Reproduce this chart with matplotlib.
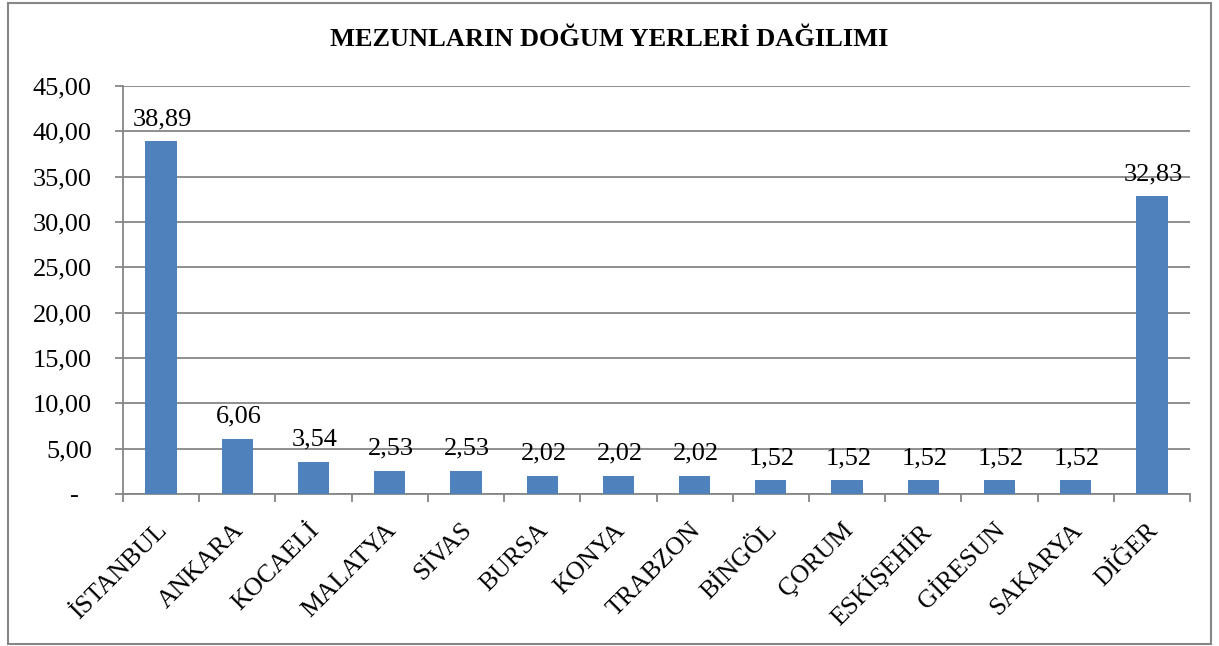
import matplotlib
matplotlib.use("Agg")
import matplotlib.pyplot as plt
from matplotlib.patches import Rectangle
from matplotlib.transforms import ScaledTranslation
import numpy as np

categories = ["İSTANBUL", "ANKARA", "KOCAELİ", "MALATYA", "SİVAS", "BURSA", "KONYA",
              "TRABZON", "BİNGÖL", "ÇORUM", "ESKİŞEHİR", "GİRESUN", "SAKARYA", "DİĞER"]
values = [38.89, 6.06, 3.54, 2.53, 2.53, 2.02, 2.02, 2.02, 1.52, 1.52, 1.52, 1.52, 1.52, 32.83]
yticks = [0, 5, 10, 15, 20, 25, 30, 35, 40, 45]
ytick_labels = ["-  ", "5,00", "10,00", "15,00", "20,00", "25,00", "30,00", "35,00", "40,00", "45,00"]
title = "MEZUNLARIN DOĞUM YERLERİ DAĞILIMI"

plt.rcParams['font.family'] = ['Liberation Serif', 'DejaVu Serif']
FS = 19

fig = plt.figure(figsize=(12.19, 6.46), dpi=100)
fig.patches.append(Rectangle((8/1219, 2/646), 1203/1219, 641/646, transform=fig.transFigure,
                             fill=False, edgecolor='#868686', linewidth=1.5))
ax = fig.add_axes([123/1219, 1 - 494/646, (1190 - 123)/1219, (494 - 86)/646])

x = np.arange(len(categories))
ax.bar(x, values, width=0.41, color='#4F81BD', zorder=3)
for xi, v in zip(x, values):
    ax.annotate(f"{v:.2f}".replace('.', ','), (xi, v), xytext=(1, 8), textcoords='offset points',
                ha='center', va='bottom', fontsize=FS, zorder=4)

ax.set_xlim(-0.5, len(categories) - 0.5)
ax.set_ylim(0, 45)
ax.set_yticks(yticks)
ax.set_yticklabels(ytick_labels, fontsize=FS)
ax.yaxis.grid(True, color='#868686', linewidth=1.3, zorder=0)
ax.set_axisbelow(True)

ax.set_xticks(x)
ax.set_xticklabels(categories, rotation=45, ha='right', va='top', rotation_mode='anchor', fontsize=18.5)
ax.tick_params(axis='x', length=0, pad=18)
offset = ScaledTranslation(-5/100, 0, fig.dpi_scale_trans)
for lbl in ax.get_xticklabels():
    lbl.set_transform(lbl.get_transform() + offset)
ax.set_xticks(np.arange(len(categories) + 1) - 0.5, minor=True)
ax.tick_params(axis='x', which='minor', length=6, color='#868686', width=1.3)
ax.tick_params(axis='y', length=6, color='#868686', width=1.3, pad=16.5)

for s in ['top', 'right']:
    ax.spines[s].set_visible(False)
for s in ['left', 'bottom']:
    ax.spines[s].set_color('#868686')
    ax.spines[s].set_linewidth(1.3)

fig.text(0.5, 1 - 40/646, title, ha='center', va='center', fontsize=19, fontweight='bold')

fig.savefig("out.png", dpi=100)
